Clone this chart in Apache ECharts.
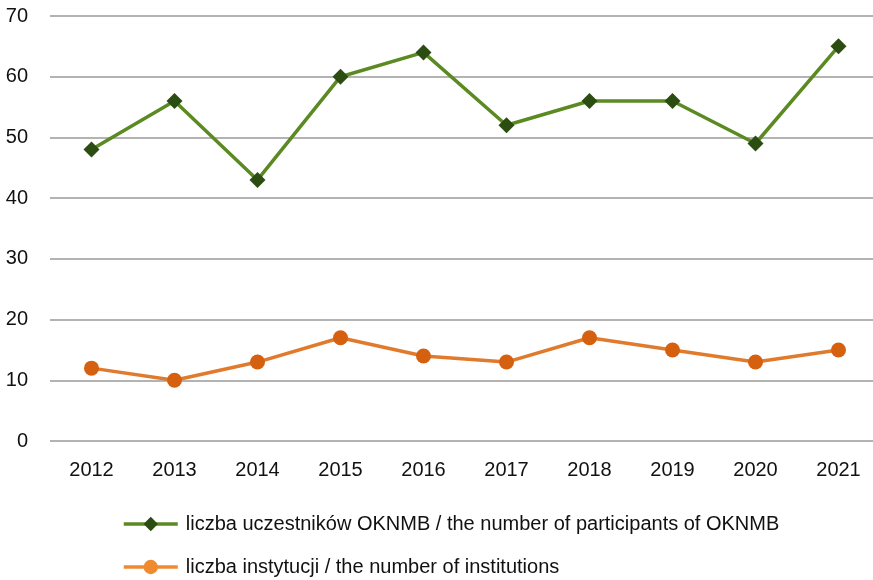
<!DOCTYPE html>
<html>
<head>
<meta charset="utf-8">
<script src="https://cdn.jsdelivr.net/npm/echarts@6/dist/echarts.min.js"></script>
<style>
  html, body { margin: 0; padding: 0; background: #fff; }
  #chart { width: 873px; height: 580px; }
</style>
</head>
<body>
<div id="chart"></div>
<script>
const years = ["2012", "2013", "2014", "2015", "2016", "2017", "2018", "2019", "2020", "2021"];
const participants = [48, 56, 43, 60, 64, 52, 56, 56, 49, 65];
const institutions = [12, 10, 13, 17, 14, 13, 17, 15, 13, 15];
const seriesNames = [
  "liczba uczestników OKNMB / the number of participants of OKNMB",
  "liczba instytucji / the number of institutions"
];

const chart = echarts.init(document.getElementById("chart"));

const legendBase = {
  left: 117,
  itemWidth: 54,
  itemHeight: 18,
  lineStyle: { width: 3.5 },
  textStyle: { fontSize: 20, color: "#111", padding: [0, 0, 0, 3] }
};

const option = {
  animation: false,
  textStyle: { fontFamily: "Liberation Sans, Arial, sans-serif" },
  grid: { left: 50, width: 830, top: 16, bottom: 139, outerBoundsMode: "none" },
  legend: [
    Object.assign({}, legendBase, { top: 509, data: [seriesNames[0]] }),
    Object.assign({}, legendBase, {
      top: 552,
      data: [seriesNames[1]],
      itemStyle: { color: "#ef8a2e" },
      lineStyle: { width: 3.5, color: "#ee8a34" }
    })
  ],
  xAxis: {
    type: "category",
    data: years,
    boundaryGap: true,
    axisLine: { show: false },
    axisTick: { show: false },
    axisLabel: { fontSize: 20, color: "#111", margin: 19 }
  },
  yAxis: {
    type: "value",
    min: 0,
    max: 70,
    interval: 10,
    axisLine: { show: false },
    axisTick: { show: false },
    axisLabel: { fontSize: 20, color: "#111", margin: 22 },
    splitLine: { lineStyle: { color: "#b3b3b3", width: 2 } }
  },
  series: [
    {
      name: seriesNames[0],
      type: "line",
      data: participants,
      symbol: "diamond",
      symbolSize: 16,
      lineStyle: { color: "#5b8a22", width: 3.5 },
      itemStyle: { color: "#2b4d12" }
    },
    {
      name: seriesNames[1],
      type: "line",
      data: institutions,
      symbol: "circle",
      symbolSize: 15,
      lineStyle: { color: "#e07a2c", width: 3.5 },
      itemStyle: { color: "#d5600f" }
    }
  ]
};

chart.setOption(option);
</script>
</body>
</html>
